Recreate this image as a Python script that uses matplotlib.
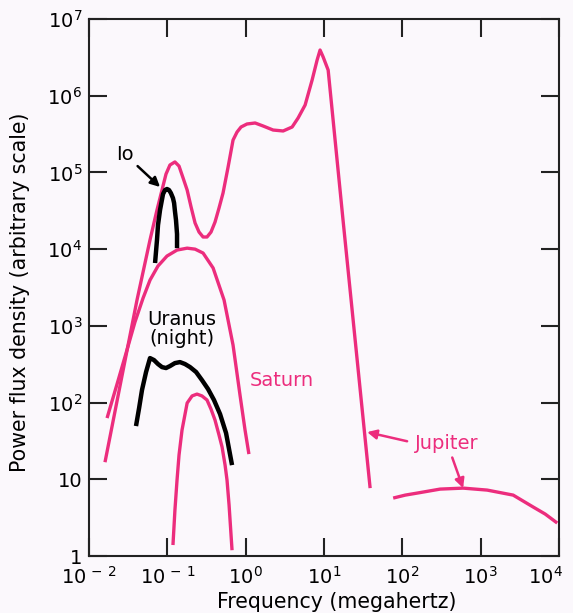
import matplotlib
matplotlib.use('Agg')
import matplotlib.pyplot as plt
import matplotlib.transforms as mtransforms

# values (frequency in MHz, flux in arbitrary units)
jup_freq = [0.0160, 0.0256, 0.0410, 0.0601, 0.0738, 0.0855, 0.0962, 0.108, 0.125, 0.141,
            0.159, 0.179, 0.201, 0.226, 0.254, 0.286, 0.321, 0.361, 0.406, 0.457,
            0.514, 0.596, 0.690, 0.776, 0.873, 1.04, 1.32, 1.67, 2.24, 3.01, 3.92,
            4.67, 5.74, 7.05, 8.17, 8.91, 9.75, 11.3, 17.5, 38.8]
jup_flux = [16.7, 191, 2170, 1.32e4, 3.24e4, 5.90e4, 9.53e4, 1.25e5, 1.37e5, 1.21e5,
            8.45e4, 5.90e4, 3.54e4, 2.19e4, 1.67e4, 1.44e4, 1.44e4, 1.67e4, 2.25e4, 3.44e4,
            5.38e4, 1.17e5, 2.64e5, 3.36e5, 3.91e5, 4.28e5, 4.41e5, 4.03e5, 3.57e5, 3.47e5, 3.91e5,
            5.12e5, 7.56e5, 1.60e6, 2.92e6, 3.94e6, 3.20e6, 2.16e6, 2.39e4, 7.67]

jup_hf_freq = [76.4, 109, 155, 304, 597, 1210, 2600, 4680, 6670, 9490]
jup_hf_flux = [5.69, 6.22, 6.61, 7.45, 7.67, 7.23, 6.22, 4.35, 3.52, 2.69]

sat_freq = [0.0170, 0.0228, 0.0305, 0.0386, 0.0490, 0.0601, 0.0760, 0.0990, 0.133, 0.179,
            0.226, 0.286, 0.384, 0.530, 0.690, 0.847, 0.982, 1.10]
sat_flux = [62.8, 174, 483, 1120, 2300, 3950, 6030, 8130, 9730, 1.03e4,
            1.00e4, 8890, 5680, 2170, 562, 125, 43.8, 21.3]

low_freq = [0.118, 0.125, 0.133, 0.141, 0.154, 0.179, 0.207, 0.239, 0.277, 0.321,
            0.361, 0.406, 0.457, 0.500, 0.546, 0.578, 0.614, 0.670]
low_flux = [1.39, 3.96, 9.77, 20.7, 43.8, 98.6, 122, 129, 122, 108,
            82.2, 59.2, 37.7, 26.3, 15.3, 9.77, 4.61, 1.19]

ura_freq = [0.0398, 0.0436, 0.0475, 0.0535, 0.0601, 0.0676, 0.0760, 0.0855, 0.0962, 0.108,
            0.125, 0.145, 0.168, 0.195, 0.233, 0.277, 0.331, 0.394, 0.471, 0.562, 0.670]
ura_flux = [49.4, 84.7, 146, 250, 380, 358, 318, 290, 282, 299,
            327, 337, 318, 290, 250, 196, 150, 108, 70.8, 40.0, 15.3]

io_freq = [0.0697, 0.0738, 0.0760, 0.0807, 0.0881, 0.0935, 0.0990, 0.105, 0.111, 0.118,
           0.122, 0.125, 0.129, 0.133, 0.133]
io_flux = [6590, 1.32e4, 2.06e4, 3.24e4, 5.23e4, 5.90e4, 6.08e4, 5.90e4, 5.38e4, 4.63e4,
           3.99e4, 3.14e4, 2.39e4, 1.57e4, 1.03e4]

xticks = [1e-2, 1e-1, 1e0, 1e1, 1e2, 1e3, 1e4]
xlabels = ['$10^{\\,-\\,2}$', '$10^{\\,-\\,1}$', '$10^{0}$', '$10^{1}$', '$10^{2}$', '$10^{3}$', '$10^{4}$']
yticks = [1, 10, 1e2, 1e3, 1e4, 1e5, 1e6, 1e7]
ylabels = ['1', '10', '$10^{2}$', '$10^{3}$', '$10^{4}$', '$10^{5}$', '$10^{6}$', '$10^{7}$']

pink = '#ec2d7d'
bg = '#fbf8fc'

plt.rcParams['font.family'] = ['DejaVu Sans']
plt.rcParams['mathtext.fontset'] = 'dejavusans'

fig = plt.figure(figsize=(5.73, 6.13), dpi=100, facecolor=bg)
ax = fig.add_axes([89/573, 1-556/613, 470/573, 537/613], facecolor=bg)

style = dict(solid_joinstyle='round', solid_capstyle='butt')
ax.plot(jup_freq, jup_flux, color=pink, lw=2.4, **style)
ax.plot(jup_hf_freq, jup_hf_flux, color=pink, lw=2.4, **style)
ax.plot(sat_freq, sat_flux, color=pink, lw=2.4, **style)
ax.plot(low_freq, low_flux, color=pink, lw=2.4, **style)
ax.plot(ura_freq, ura_flux, color='black', lw=3.2, **style)
ax.plot(io_freq, io_flux, color='black', lw=3.2, **style)

ax.set_xscale('log')
ax.set_yscale('log')
ax.set_xlim(1e-2, 1e4)
ax.set_ylim(1, 1e7)
ax.set_xticks(xticks)
ax.set_xticklabels(xlabels)
ax.set_yticks(yticks)
ax.set_yticklabels(ylabels)
ax.minorticks_off()
ax.tick_params(which='major', direction='in', top=True, right=True, length=13, width=1.5,
               labelsize=14, color='#222222')
ax.tick_params(axis='x', pad=7)
ax.tick_params(axis='y', pad=5)
for s in ax.spines.values():
    s.set_linewidth(1.5)
    s.set_color('#222222')

# keep the last x label inside the figure, as in the reference
last = ax.get_xticklabels()[-1]
last.set_ha('right')
last.set_transform(last.get_transform() + mtransforms.ScaledTranslation(4/100, 0, fig.dpi_scale_trans))

# labels
ax.annotate('Io', xy=(0.0807, 6.46e4), xytext=(0.0288, 1.69e5), fontsize=14,
            ha='center', va='center',
            arrowprops=dict(arrowstyle='-|>', color='black', lw=1.8, mutation_scale=14,
                            shrinkA=1, shrinkB=0, relpos=(1.0, 0.1)))
ax.text(0.154, 908, 'Uranus\n(night)', fontsize=14, ha='center', va='center', linespacing=1.0)
ax.text(1.14, 196, 'Saturn', fontsize=14, color=pink, ha='left', va='center')
ax.annotate('Jupiter', xy=(35.5, 41.2), xytext=(373, 29.6), fontsize=14, color=pink,
            ha='center', va='center',
            arrowprops=dict(arrowstyle='-|>', color=pink, lw=1.8, mutation_scale=14,
                            shrinkA=4, shrinkB=0, relpos=(0.0, 0.5)))
ax.annotate('', xy=(597, 7.67), xytext=(373, 29.6), fontsize=14,
            arrowprops=dict(arrowstyle='-|>', color=pink, lw=1.8, mutation_scale=14,
                            shrinkA=11, shrinkB=0))

fig.text(337/573, 1-602/613, 'Frequency (megahertz)', fontsize=14.8, ha='center', va='center')
fig.text(20/573, 1-292/613, 'Power flux density (arbitrary scale)', fontsize=14.8,
         rotation=90, ha='center', va='center')

fig.savefig('out.png', dpi=100, facecolor=bg)
